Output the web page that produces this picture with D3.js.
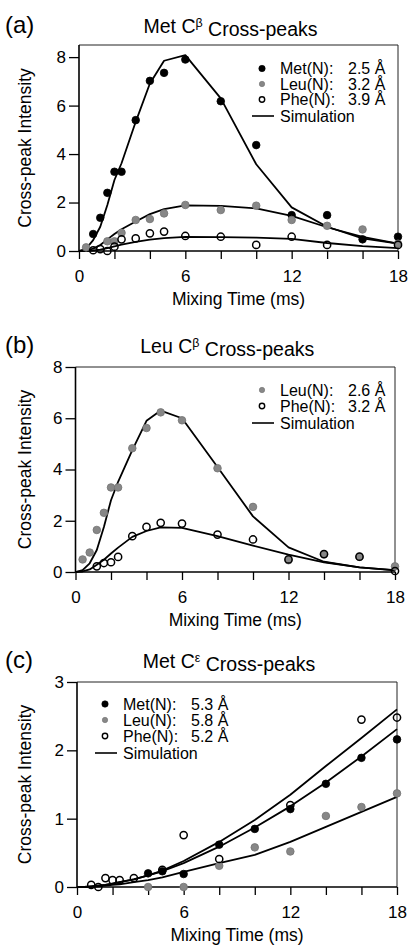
<!DOCTYPE html>
<html>
<head>
<meta charset="utf-8">
<script src="https://cdn.jsdelivr.net/npm/d3@7"></script>
<style>
  body { margin: 0; background: #fff; }
  svg { display: block; font-family: "Liberation Sans", Arial, Helvetica, sans-serif; }
</style>
</head>
<body>
<div id="chart"></div>
<script>
// mixing times (ms) at which the simulation was evaluated
const simTimes = [0, 0.4, 0.8, 1.2, 1.6, 2.0, 2.4, 3.2, 4.0, 4.8, 6, 8, 10, 12, 14, 16, 18];
const xTicks = [0, 6, 12, 18];
const xMinorTicks = [2, 4, 8, 10, 14, 16];

// (a) Met C-beta cross-peaks
const aMetT = [0.8, 1.2, 1.6, 2.0, 2.4, 3.2, 4.0, 4.8, 6, 8, 10, 12, 14, 16, 18];
const aMetV = [0.7, 1.37, 2.4, 3.27, 3.27, 5.4, 7.02, 7.35, 7.9, 6.18, 4.37, 1.48, 1.48, 0.48, 0.59];
const aLeuT = [0.4, 1.6, 2.0, 2.4, 3.2, 4.0, 4.8, 6, 8, 10, 12, 14, 16, 18];
const aLeuV = [0.15, 0.4, 0.4, 0.75, 1.28, 1.32, 1.55, 1.9, 1.69, 1.87, 1.28, 1.04, 0.89, 0.3];
const aPheT = [0.8, 1.2, 1.6, 2.0, 2.4, 3.2, 4.0, 4.8, 6, 8, 10, 12, 14, 18];
const aPheV = [0.03, 0.08, 0.0, 0.18, 0.48, 0.52, 0.73, 0.8, 0.62, 0.59, 0.25, 0.59, 0.25, 0.25];
const aMetSim = [0, 0.1, 0.45, 1.0, 1.9, 2.93, 3.62, 5.33, 6.91, 7.85, 8.08, 6.3, 3.58, 1.8, 1.0, 0.52, 0.3];
const aLeuSim = [0, 0.02, 0.1, 0.25, 0.48, 0.7, 0.9, 1.22, 1.52, 1.73, 1.88, 1.86, 1.76, 1.45, 0.98, 0.58, 0.3];
const aPheSim = [0, 0, 0.02, 0.06, 0.12, 0.19, 0.26, 0.38, 0.47, 0.53, 0.58, 0.57, 0.55, 0.5, 0.33, 0.2, 0.12];
const aLegend = ["Met(N):", "Leu(N):", "Phe(N):"];
const aDist = ["2.5 Å", "3.2 Å", "3.9 Å"];

// (b) Leu C-beta cross-peaks
const bLeuT = [0.4, 0.8, 1.2, 1.6, 2.0, 2.4, 3.2, 4.0, 4.8, 6, 8, 10, 12, 14, 16, 18];
const bLeuV = [0.49, 0.76, 1.64, 2.31, 3.3, 3.3, 4.83, 5.62, 6.23, 5.92, 4.05, 2.54, 0.46, 0.69, 0.59, 0.22];
const bPheT = [1.2, 1.6, 2.0, 2.4, 3.2, 4.0, 4.8, 6, 8, 10, 12, 14, 16, 18];
const bPheV = [0.22, 0.35, 0.38, 0.59, 1.4, 1.76, 1.92, 1.89, 1.46, 1.27, 0.49, 0.7, 0.6, 0.04];
const bLeuSim = [0, 0.07, 0.34, 0.86, 1.76, 2.8, 3.52, 4.76, 5.9, 6.3, 6.0, 4.1, 2.17, 0.96, 0.4, 0.18, 0.06];
const bPheSim = [0, 0.02, 0.1, 0.28, 0.48, 0.72, 0.95, 1.37, 1.6, 1.74, 1.72, 1.4, 1.03, 0.68, 0.38, 0.18, 0.07];
const bLegend = ["Leu(N):", "Phe(N):"];
const bDist = ["2.6 Å", "3.2 Å"];

// (c) Met C-epsilon cross-peaks
const cMetT = [4.0, 4.8, 6, 8, 10, 12, 14, 16, 18];
const cMetV = [0.2, 0.23, 0.19, 0.62, 0.85, 1.14, 1.51, 1.89, 2.16];
const cLeuT = [4.0, 6, 8, 10, 12, 14, 16, 18];
const cLeuV = [0.0, 0.0, 0.31, 0.58, 0.52, 1.04, 1.17, 1.37];
const cPheT = [0.8, 1.2, 1.6, 2.0, 2.4, 3.2, 4.8, 6, 8, 12, 16, 18];
const cPheV = [0.03, 0.0, 0.13, 0.1, 0.1, 0.13, 0.25, 0.76, 0.41, 1.2, 2.45, 2.48];
const cMetSim = [0, 0, 0.01, 0.02, 0.03, 0.05, 0.07, 0.11, 0.17, 0.23, 0.35, 0.59, 0.87, 1.18, 1.53, 1.91, 2.31];
const cLeuSim = [0, 0, 0, 0.01, 0.02, 0.03, 0.04, 0.07, 0.1, 0.14, 0.22, 0.35, 0.47, 0.66, 0.88, 1.1, 1.32];
const cPheSim = [0, 0, 0.01, 0.02, 0.03, 0.05, 0.07, 0.11, 0.17, 0.24, 0.38, 0.66, 0.98, 1.35, 1.77, 2.18, 2.6];
const cLegend = ["Met(N):", "Leu(N):", "Phe(N):"];
const cDist = ["5.3 Å", "5.8 Å", "5.2 Å"];

const markerStyle = {
  met: { fill: "#000", stroke: "#000", r: 3.8 },
  leu: { fill: "#878787", stroke: "#727272", r: 3.8 },
  phe: { fill: "none", stroke: "#000", r: 3.6 }
};

const svg = d3.select("#chart").append("svg")
  .attr("width", 409)
  .attr("height", 946);

function drawPanel(p) {
  const x = d3.scaleLinear().domain([0, 18]).range([p.left, p.right]);
  const y = d3.scaleLinear().domain([0, p.yMax]).range([p.bottom, p.top]);
  const g = svg.append("g");

  // thin frame on top and right
  g.append("path")
    .attr("d", `M${p.left},${p.top}H${p.right}V${p.bottom}`)
    .attr("fill", "none").attr("stroke", "#222").attr("stroke-width", 1);

  // x axis, major ticks with labels
  const xAxis = g.append("g")
    .attr("transform", `translate(0,${p.bottom})`)
    .call(d3.axisBottom(x).tickValues(xTicks).tickSize(8).tickSizeOuter(0).tickPadding(11));
  // minor ticks
  g.append("g")
    .attr("transform", `translate(0,${p.bottom})`)
    .call(d3.axisBottom(x).tickValues(xMinorTicks).tickSize(8).tickSizeOuter(0).tickFormat(""))
    .select(".domain").remove();

  const yAxis = g.append("g")
    .attr("transform", `translate(${p.left},0)`)
    .call(d3.axisLeft(y).tickValues(p.yTicks).tickFormat(d3.format("d"))
      .tickSize(10).tickSizeOuter(0).tickPadding(3));

  g.selectAll(".domain").attr("stroke", "#000").attr("stroke-width", 1.6);
  g.selectAll(".tick line").attr("stroke", "#000").attr("stroke-width", 1.3);
  g.selectAll(".tick text").attr("fill", "#000").style("font-size", "17px").style("font-family", "inherit");
  // y axis line runs up to the frame top
  yAxis.select(".domain").attr("d", `M0,${p.bottom}V${p.top}`);
  xAxis.select(".domain").attr("d", `M${p.left},0H${p.right}`);

  // simulation lines
  const line = d3.line().x((d, i) => x(simTimes[i])).y(d => y(d));
  p.sims.forEach(s => {
    g.append("path").datum(s)
      .attr("d", line)
      .attr("fill", "none").attr("stroke", "#000").attr("stroke-width", 1.8)
      .attr("stroke-linejoin", "round");
  });

  // data points
  p.series.forEach(s => {
    const st = markerStyle[s.kind];
    g.selectAll(null)
      .data(s.t.map((t, i) => [t, s.v[i]]))
      .enter().append("circle")
      .attr("cx", d => x(d[0]))
      .attr("cy", d => y(d[1]))
      .attr("r", st.r)
      .attr("fill", st.fill)
      .attr("stroke", st.stroke)
      .attr("stroke-width", s.kind === "phe" ? 1.5 : 0.8);
  });

  // legend
  const lg = g.append("g").style("font-size", "16px");
  p.legend.forEach((name, i) => {
    const st = markerStyle[p.legendKinds[i]];
    const cy = p.legY + i * p.legStep;
    lg.append("circle")
      .attr("cx", p.legX).attr("cy", cy).attr("r", p.legendKinds[i] === "met" ? 3.2 : 2.7)
      .attr("fill", st.fill).attr("stroke", st.stroke)
      .attr("stroke-width", p.legendKinds[i] === "phe" ? 1.4 : 0.6);
    lg.append("text").attr("x", p.legX + 18).attr("y", cy).attr("dy", "0.36em").text(name);
    lg.append("text").attr("x", p.legX + 86).attr("y", cy).attr("dy", "0.36em").text(p.dist[i]);
  });
  const sy = p.legY + p.legend.length * p.legStep + 1;
  lg.append("line")
    .attr("x1", p.legX - 10).attr("x2", p.legX + 12)
    .attr("y1", sy).attr("y2", sy)
    .attr("stroke", "#000").attr("stroke-width", 1.6);
  lg.append("text").attr("x", p.legX + 18).attr("y", sy).attr("dy", "0.36em").text("Simulation");

  // titles and axis labels
  const title = g.append("text")
    .attr("x", (p.left + p.right) / 2 - 8).attr("y", p.titleY)
    .attr("text-anchor", "middle").style("font-size", "19.5px");
  title.append("tspan").text(p.titleA);
  title.append("tspan").attr("dy", "-0.45em").style("font-size", "12.5px").text(p.titleSup);
  title.append("tspan").attr("dy", "0.45em").text(" Cross-peaks");

  g.append("text").attr("x", 5).attr("y", p.titleY)
    .style("font-size", "24px").text(p.label);

  g.append("text")
    .attr("x", (p.left + p.right) / 2).attr("y", p.bottom + 54)
    .attr("text-anchor", "middle").style("font-size", "17.5px")
    .text("Mixing Time (ms)");

  g.append("text")
    .attr("transform", `translate(31,${(p.top + p.bottom) / 2}) rotate(-90)`)
    .attr("text-anchor", "middle").style("font-size", "17.5px")
    .text("Cross-peak Intensity");
}

drawPanel({
  label: "(a)", titleA: "Met C", titleSup: "β", titleY: 33,
  left: 79, right: 398, top: 45, bottom: 251, yMax: 8.5, yTicks: [0, 2, 4, 6, 8],
  sims: [aMetSim, aLeuSim, aPheSim],
  series: [
    { kind: "met", t: aMetT, v: aMetV },
    { kind: "leu", t: aLeuT, v: aLeuV },
    { kind: "phe", t: aPheT, v: aPheV }
  ],
  legend: aLegend, dist: aDist, legendKinds: ["met", "leu", "phe"],
  legX: 262, legY: 68.5, legStep: 15.5
});

drawPanel({
  label: "(b)", titleA: "Leu C", titleSup: "β", titleY: 353,
  left: 75.5, right: 395, top: 367, bottom: 572, yMax: 8, yTicks: [0, 2, 4, 6, 8],
  sims: [bLeuSim, bPheSim],
  series: [
    { kind: "leu", t: bLeuT, v: bLeuV },
    { kind: "phe", t: bPheT, v: bPheV }
  ],
  legend: bLegend, dist: bDist, legendKinds: ["leu", "phe"],
  legX: 262, legY: 390, legStep: 16
});

drawPanel({
  label: "(c)", titleA: "Met C", titleSup: "ε", titleY: 668,
  left: 77, right: 397, top: 682, bottom: 887, yMax: 3, yTicks: [0, 1, 2, 3],
  sims: [cMetSim, cLeuSim, cPheSim],
  series: [
    { kind: "met", t: cMetT, v: cMetV },
    { kind: "leu", t: cLeuT, v: cLeuV },
    { kind: "phe", t: cPheT, v: cPheV }
  ],
  legend: cLegend, dist: cDist, legendKinds: ["met", "leu", "phe"],
  legX: 105, legY: 704, legStep: 16
});
</script>
</body>
</html>
